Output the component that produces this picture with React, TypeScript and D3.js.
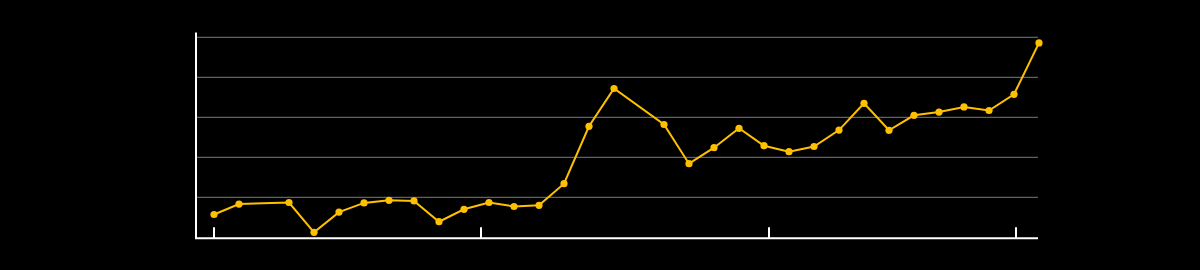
import React, { useEffect } from "react";
import * as d3 from "d3";

const positions = [0, 1, 3, 4, 5, 6, 7, 8, 9, 10, 11, 12, 13, 14, 15, 16, 18, 19, 20, 21, 22, 23, 24, 25, 26, 27, 28, 29, 30, 31, 32, 33];
const values = [0.57, 0.83, 0.87, 0.125, 0.63, 0.86, 0.925, 0.91, 0.39, 0.7, 0.87, 0.77, 0.8, 1.34, 2.775, 3.72, 2.82, 1.84, 2.24, 2.725, 2.29, 2.14, 2.27, 2.68, 3.35, 2.675, 3.05, 3.13, 3.26, 3.17, 3.575, 4.86];
const xTicks = [0, 10.68, 22.2, 32.08];
const yGrid = [1, 2, 3, 4, 5];

export default function App() {
  useEffect(() => {
    document.body.style.margin = "0";
    document.body.style.background = "#000";
  }, []);
  const W = 1200, H = 270;
  const x = d3.scaleLinear().domain([0, 33]).range([214, 1039]);
  const y = d3.scaleLinear().domain([0, 5]).range([237.3, 37.3]);
  const line = d3.line<number>().x((_, i) => x(positions[i])).y((d) => y(d));
  const left = 196, right = 1038, bottom = 238.3;
  return (
    <svg width={W} height={H} style={{ display: "block", background: "#000" }}>
      <rect x={0} y={0} width={W} height={H} fill="#000" />
      {yGrid.map((g) => (
        <line key={g} x1={left} x2={right} y1={y(g)} y2={y(g)} stroke="#7a7a7a" strokeWidth={1} />
      ))}
      <line x1={left} x2={left} y1={32.5} y2={bottom} stroke="#fff" strokeWidth={2} />
      <line x1={left - 1} x2={right} y1={bottom} y2={bottom} stroke="#fff" strokeWidth={2} />
      {xTicks.map((t) => (
        <line key={t} x1={x(t)} x2={x(t)} y1={bottom} y2={bottom - 11} stroke="#fff" strokeWidth={2} />
      ))}
      <path d={line(values) || ""} fill="none" stroke="#FFC000" strokeWidth={2} />
      {values.map((v, i) => (
        <circle key={i} cx={x(positions[i])} cy={y(v)} r={3.6} fill="#FFC000" />
      ))}
    </svg>
  );
}
